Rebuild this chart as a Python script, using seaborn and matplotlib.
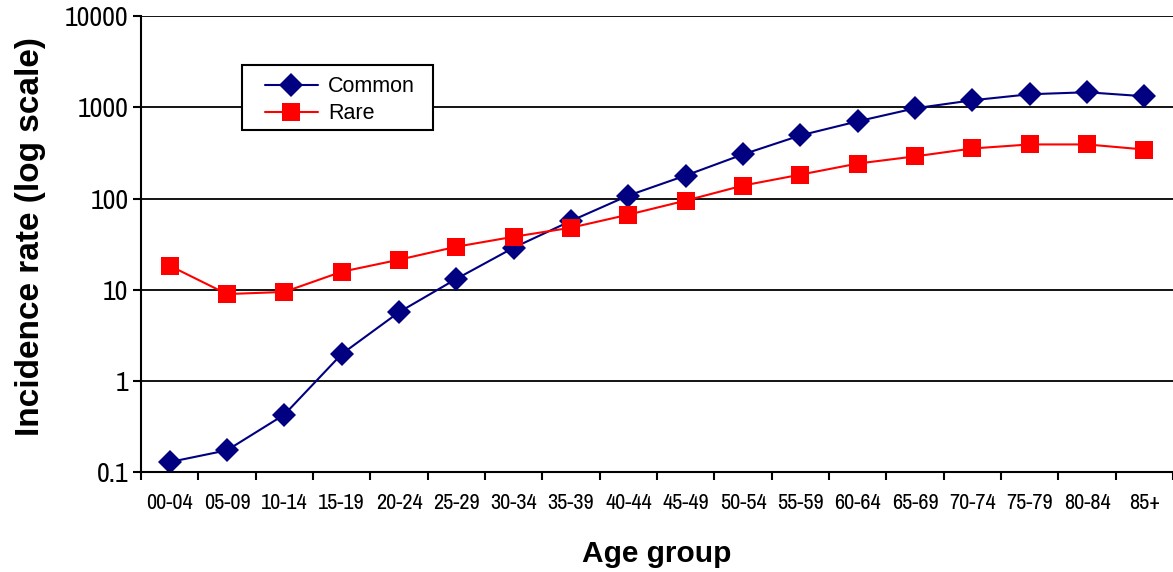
import numpy as np
import pandas as pd
import matplotlib
matplotlib.use("Agg")
import matplotlib.pyplot as plt
import seaborn as sns
from matplotlib import font_manager as fm
from matplotlib.patches import Rectangle

age_groups = ["00-04", "05-09", "10-14", "15-19", "20-24", "25-29", "30-34", "35-39",
              "40-44", "45-49", "50-54", "55-59", "60-64", "65-69", "70-74", "75-79",
              "80-84", "85+"]
common = [0.13, 0.175, 0.43, 1.98, 5.7, 13.2, 29, 57, 108, 179, 305, 492, 702, 975,
          1194, 1390, 1462, 1321]
rare = [18.4, 9.0, 9.5, 15.8, 21.4, 29.7, 38.2, 48, 66.7, 95, 139, 183, 242, 290,
        354, 392, 392, 345]
y_ticks = [0.1, 1, 10, 100, 1000, 10000]
y_tick_labels = ["0.1", "1", "10", "100", "1000", "10000"]

sns.set_theme(style="white")
names = {f.name for f in fm.fontManager.ttflist}
narrow = "Liberation Sans"
for cand in ["Liberation Sans Narrow", "Arial Narrow", "Archivo Narrow", "Roboto Condensed",
             "Arimo"]:
    if cand in names:
        narrow = cand
        break
plt.rcParams["font.family"] = ["Liberation Sans", "DejaVu Sans"]
plt.rcParams["text.color"] = "black"
plt.rcParams["axes.labelcolor"] = "black"
plt.rcParams["xtick.color"] = "black"
plt.rcParams["ytick.color"] = "black"

df = pd.DataFrame({
    "x": list(range(len(age_groups))) * 2,
    "value": common + rare,
    "series": ["Common"] * len(age_groups) + ["Rare"] * len(age_groups),
})

fig = plt.figure(figsize=(11.73, 5.72), dpi=100)
ax = fig.add_axes([0.1202, 0.174, 0.8798, 0.798])

sns.lineplot(data=df[df.series == "Common"], x="x", y="value", ax=ax, color="#000080",
             marker="D", markersize=12.5, markeredgewidth=0, linewidth=1.5, label="Common")
sns.lineplot(data=df[df.series == "Rare"], x="x", y="value", ax=ax, color="#ff0000",
             marker="s", markersize=12.5, markeredgewidth=0, linewidth=1.5, label="Rare")

ax.set_yscale("log")
ax.set_ylim(0.1, 10000)
ax.set_xlim(-0.5, len(age_groups) - 0.5)
ax.set_yticks(y_ticks)
ax.set_yticklabels(y_tick_labels, fontsize=20, family=[narrow, "DejaVu Sans"])
ax.yaxis.set_minor_locator(matplotlib.ticker.NullLocator())
ax.set_xticks(range(len(age_groups)))
ax.set_xticklabels(age_groups, fontsize=16, family=[narrow, "DejaVu Sans"])
ax.set_xticks(np.arange(-0.5, len(age_groups), 1), minor=True)
ax.tick_params(axis="x", which="major", length=0, pad=15)
ax.tick_params(axis="x", which="minor", length=6, width=1.5, direction="out", color="black", bottom=True)
ax.tick_params(axis="y", which="major", length=6, width=1.5, direction="out", color="black", left=True, pad=3)

for v in y_ticks[1:]:
    ax.axhline(v, color="black", linewidth=1.3, zorder=0)

for s in ["right", "top"]:
    ax.spines[s].set_visible(False)
for s in ["left", "bottom"]:
    ax.spines[s].set_color("black")
    ax.spines[s].set_linewidth(1.5)

ax.set_xlabel("Age group", fontsize=21.5, fontweight="bold", labelpad=19)
ax.set_ylabel("Incidence rate (log scale)", fontsize=24, fontweight="bold")
ax.yaxis.set_label_coords(-0.092, 0.516)

# legend box
ax.add_patch(Rectangle((0.0979, 0.750), 0.185, 0.1427, transform=ax.transAxes,
                       facecolor="white", edgecolor="black", linewidth=1.5, zorder=4))
leg = ax.legend(loc="upper left", bbox_to_anchor=(0.1202, 0.868), fontsize=15.5, frameon=False,
                borderpad=0, handlelength=2.45, handletextpad=0.47, labelspacing=0.27,
                borderaxespad=0)
leg.set_zorder(5)

fig.savefig("out.png", dpi=100)
